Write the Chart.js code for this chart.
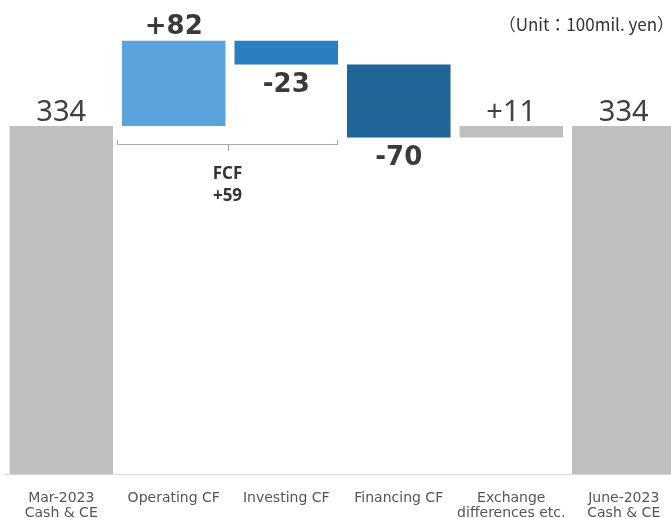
<!DOCTYPE html>
<html>
<head>
<meta charset="utf-8">
<script src="https://cdn.jsdelivr.net/npm/chart.js@4"></script>
<style>
  body { margin: 0; overflow: hidden; background: #fff; }
  #wrap { position: absolute; left: 0; top: 0; width: 680px; height: 537px; }
</style>
</head>
<body>
<div id="wrap"><canvas id="cfChart" width="680" height="537"></canvas></div>
<script>
var categories = [['Mar-2023', 'Cash & CE'], 'Operating CF', 'Investing CF', 'Financing CF', ['Exchange', 'differences etc.'], ['June-2023', 'Cash & CE']];
var changes = [334, 82, -23, -70, 11, 334];
var isTotal = [true, false, false, false, false, true];
var barColors = ['#bfbfbf', '#5ba3dc', '#2a7fc1', '#1f6598', '#bfbfbf', '#bfbfbf'];
var boldLabel = [false, true, true, true, false, false];
var unitText = '（Unit：100mil. yen）';

// floating ranges for the waterfall
var ranges = [];
var running = 0;
for (var i = 0; i < changes.length; i++) {
  if (isTotal[i]) {
    ranges.push([0, changes[i]]);
    running = changes[i];
  } else {
    ranges.push([running, running + changes[i]]);
    running += changes[i];
  }
}

function labelFor(i) {
  if (isTotal[i]) return String(changes[i]);
  return (changes[i] > 0 ? '+' : '') + changes[i];
}

var labelPlugin = {
  id: 'waterfallLabels',
  afterDatasetsDraw: function(chart) {
    var ctx = chart.ctx;
    var xs = chart.scales.x;
    var ys = chart.scales.y;
    var meta = chart.getDatasetMeta(0);
    ctx.save();
    ctx.textAlign = 'center';

    for (var i = 0; i < changes.length; i++) {
      var x = xs.getPixelForValue(i);
      var top = ys.getPixelForValue(Math.max(ranges[i][0], ranges[i][1]));
      var bottom = ys.getPixelForValue(Math.min(ranges[i][0], ranges[i][1]));
      if (boldLabel[i]) {
        ctx.font = 'bold 26px "DejaVu Sans"';
        ctx.fillStyle = '#3a3a3a';
      } else {
        ctx.font = '29px "Noto Sans"';
        ctx.fillStyle = '#404040';
      }
      if (changes[i] < 0) {
        ctx.textBaseline = 'top';
        ctx.fillText(labelFor(i), x, bottom + 8);
      } else {
        ctx.textBaseline = 'alphabetic';
        ctx.fillText(labelFor(i), x, top - (boldLabel[i] ? 7 : 5));
      }
    }

    // FCF bracket under operating + investing
    var b1 = meta.data[1], b2 = meta.data[2];
    var left = b1.x - b1.width / 2 - 5;
    var right = b2.x + b2.width / 2;
    var by = ys.getPixelForValue(ranges[1][0]) + 18;
    var mid = (left + right) / 2;
    ctx.strokeStyle = '#a6a6a6';
    ctx.lineWidth = 1;
    ctx.beginPath();
    ctx.moveTo(left + 0.5, by - 4);
    ctx.lineTo(left + 0.5, by + 0.5);
    ctx.lineTo(right - 0.5, by + 0.5);
    ctx.lineTo(right - 0.5, by - 4);
    ctx.moveTo(Math.round(mid) + 0.5, by);
    ctx.lineTo(Math.round(mid) + 0.5, by + 7);
    ctx.stroke();

    var fcf = changes[1] + changes[2];
    ctx.fillStyle = '#333333';
    ctx.font = 'bold 17px "Noto Sans"';
    ctx.textBaseline = 'middle';
    ctx.fillText('FCF', mid, by + 30);
    ctx.fillText((fcf > 0 ? '+' : '') + fcf, mid, by + 52);

    // unit note
    ctx.font = '17px "Noto Sans CJK JP"';
    ctx.textAlign = 'right';
    ctx.fillStyle = '#333333';
    ctx.fillText(unitText, 674, 25);
    ctx.restore();
  }
};

var ctx = document.getElementById('cfChart').getContext('2d');
var chart = new Chart(ctx, {
  type: 'bar',
  data: {
    labels: categories,
    datasets: [{
      data: ranges,
      backgroundColor: barColors,
      borderWidth: 0,
      barPercentage: 0.92,
      categoryPercentage: 1.0
    }]
  },
  options: {
    responsive: false,
    animation: false,
    layout: { padding: { left: 5, right: 0, top: 0, bottom: 0 } },
    plugins: {
      legend: { display: false },
      tooltip: { enabled: false }
    },
    scales: {
      x: {
        grid: { display: false, drawTicks: false },
        border: { display: true, color: '#d9d9d9', width: 1 },
        ticks: {
          color: '#555555',
          font: { family: '"DejaVu Sans"', size: 14, lineHeight: 1.1 },
          padding: 16,
          maxRotation: 0,
          autoSkip: false
        }
      },
      y: {
        display: false,
        min: 0,
        max: 455
      }
    }
  },
  plugins: [labelPlugin]
});
</script>
</body>
</html>
